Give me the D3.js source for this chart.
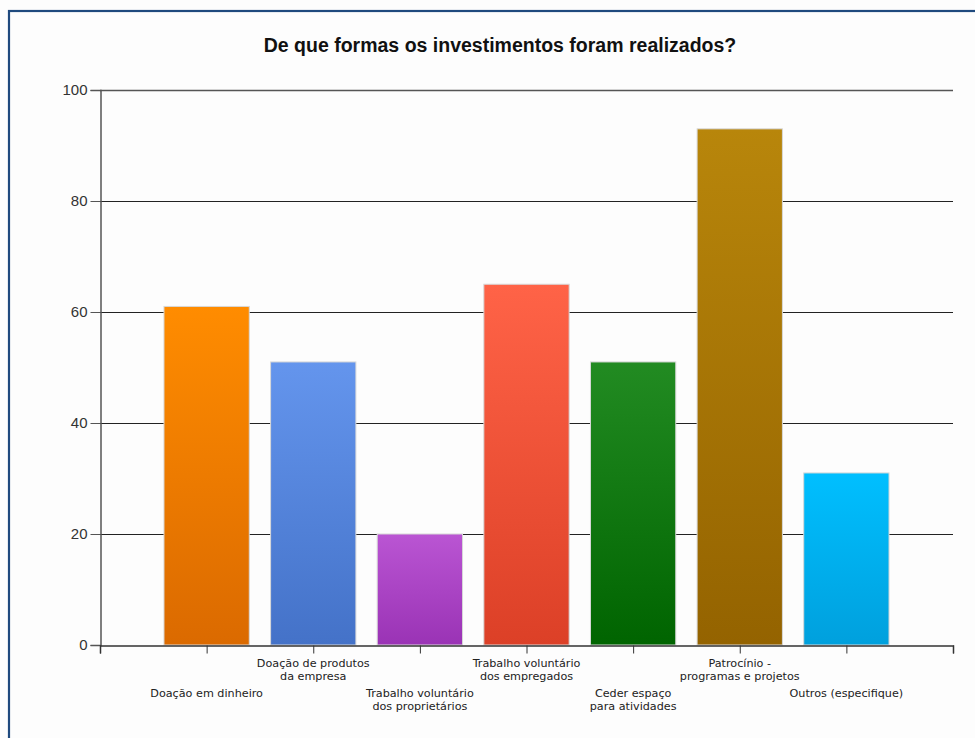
<!DOCTYPE html>
<html>
<head>
<meta charset="utf-8">
<script src="https://cdn.jsdelivr.net/npm/d3@7"></script>
<style>
  html, body { margin: 0; padding: 0; background: #fdfdfd; }
  svg { display: block; }
</style>
</head>
<body>
<div id="chart"></div>
<script>
// Survey answers: how the investments were made
const categories = [
  ["Doação em dinheiro"],
  ["Doação de produtos", "da empresa"],
  ["Trabalho voluntário", "dos proprietários"],
  ["Trabalho voluntário", "dos empregados"],
  ["Ceder espaço", "para atividades"],
  ["Patrocínio -", "programas e projetos"],
  ["Outros (especifique)"]
];
const values = [61, 51, 20, 65, 51, 93, 31];
const yTicks = [0, 20, 40, 60, 80, 100];
const topColors = ["#ff8c00", "#6495ed", "#ba55d3", "#ff6347", "#228b22", "#b8860b", "#00bfff"];
const bottomColors = ["#db6a00", "#4472c8", "#9a33b5", "#dc4027", "#006400", "#946300", "#00a0dd"];
const title = "De que formas os investimentos foram realizados?";

(function () {
  const W = 975, H = 738;
  const plotLeft = 100, plotRight = 953, plotTop = 90, plotBottom = 645;

  const svg = d3.select("#chart").append("svg")
    .attr("width", W).attr("height", H);

  // frame
  svg.append("rect")
    .attr("x", 9).attr("y", 11)
    .attr("width", 1200).attr("height", 1200)
    .attr("fill", "#fdfdfd")
    .attr("stroke", "#1f4a7e").attr("stroke-width", 2.2);

  svg.append("text")
    .attr("x", 500).attr("y", 52)
    .attr("text-anchor", "middle")
    .attr("font-family", "Liberation Sans, Arial, sans-serif")
    .attr("font-weight", "bold")
    .attr("font-size", 19.5)
    .attr("fill", "#111")
    .text(title);

  const ids = categories.map((d, i) => i);
  const x = d3.scaleBand().domain(ids).range([plotLeft, plotRight])
    .paddingInner(0.2).paddingOuter(0.6);
  const xTick = d3.scaleLinear().domain([0, categories.length + 1]).range([plotLeft, plotRight]);
  const y = d3.scaleLinear().domain([0, 100]).range([plotBottom, plotTop]);

  // vertical gradient per bar
  const defs = svg.append("defs");
  ids.forEach(i => {
    const g = defs.append("linearGradient")
      .attr("id", "g" + i)
      .attr("x1", 0).attr("y1", 0).attr("x2", 0).attr("y2", 1);
    g.append("stop").attr("offset", "0%").attr("stop-color", topColors[i]);
    g.append("stop").attr("offset", "100%").attr("stop-color", bottomColors[i]);
  });

  // gridlines
  svg.append("g")
    .selectAll("line")
    .data(yTicks.filter(t => t > 0))
    .join("line")
    .attr("x1", plotLeft).attr("x2", plotRight)
    .attr("y1", d => y(d) + 0.5).attr("y2", d => y(d) + 0.5)
    .attr("stroke", d => d === 100 ? "#555" : "#222")
    .attr("stroke-width", d => d === 100 ? 1.5 : 1);

  // bars
  svg.append("g")
    .selectAll("rect")
    .data(values)
    .join("rect")
    .attr("x", (d, i) => x(i))
    .attr("y", d => y(d))
    .attr("width", x.bandwidth())
    .attr("height", d => y(0) - y(d))
    .attr("fill", (d, i) => `url(#g${i})`)
    .attr("stroke", "#d8d8d8")
    .attr("stroke-width", 1);

  // y axis
  const yAxis = svg.append("g")
    .attr("transform", `translate(${plotLeft + 0.5},0)`)
    .call(d3.axisLeft(y).tickValues(yTicks).tickSize(10).tickPadding(3));
  yAxis.select(".domain").attr("stroke", "#555").attr("stroke-width", 1.5);
  yAxis.selectAll(".tick line").attr("stroke", "#555");
  yAxis.selectAll(".tick text")
    .attr("font-family", "Liberation Sans, Arial, sans-serif")
    .attr("font-size", 15)
    .attr("fill", "#333");

  // x axis
  const xAxis = svg.append("g")
    .attr("transform", `translate(0,${plotBottom + 0.5})`)
    .call(d3.axisBottom(xTick)
      .tickValues(d3.range(categories.length + 2))
      .tickSize(8)
      .tickFormat(""));
  xAxis.select(".domain").attr("stroke", "#333").attr("stroke-width", 1.5);
  xAxis.selectAll(".tick line").attr("stroke", "#333");

  // category labels, staggered on two rows
  const labels = svg.append("g")
    .attr("font-family", "DejaVu Sans, sans-serif")
    .attr("font-size", 11.2)
    .attr("fill", "#222")
    .attr("text-anchor", "middle");
  categories.forEach((lines, i) => {
    const cx = x(i) + x.bandwidth() / 2;
    const base = i % 2 === 0 ? 697 : 667;
    const t = labels.append("text").attr("x", cx).attr("y", base);
    lines.forEach((ln, k) => {
      t.append("tspan").attr("x", cx).attr("dy", k === 0 ? 0 : 13.3).text(ln);
    });
  });
})();
</script>
</body>
</html>
